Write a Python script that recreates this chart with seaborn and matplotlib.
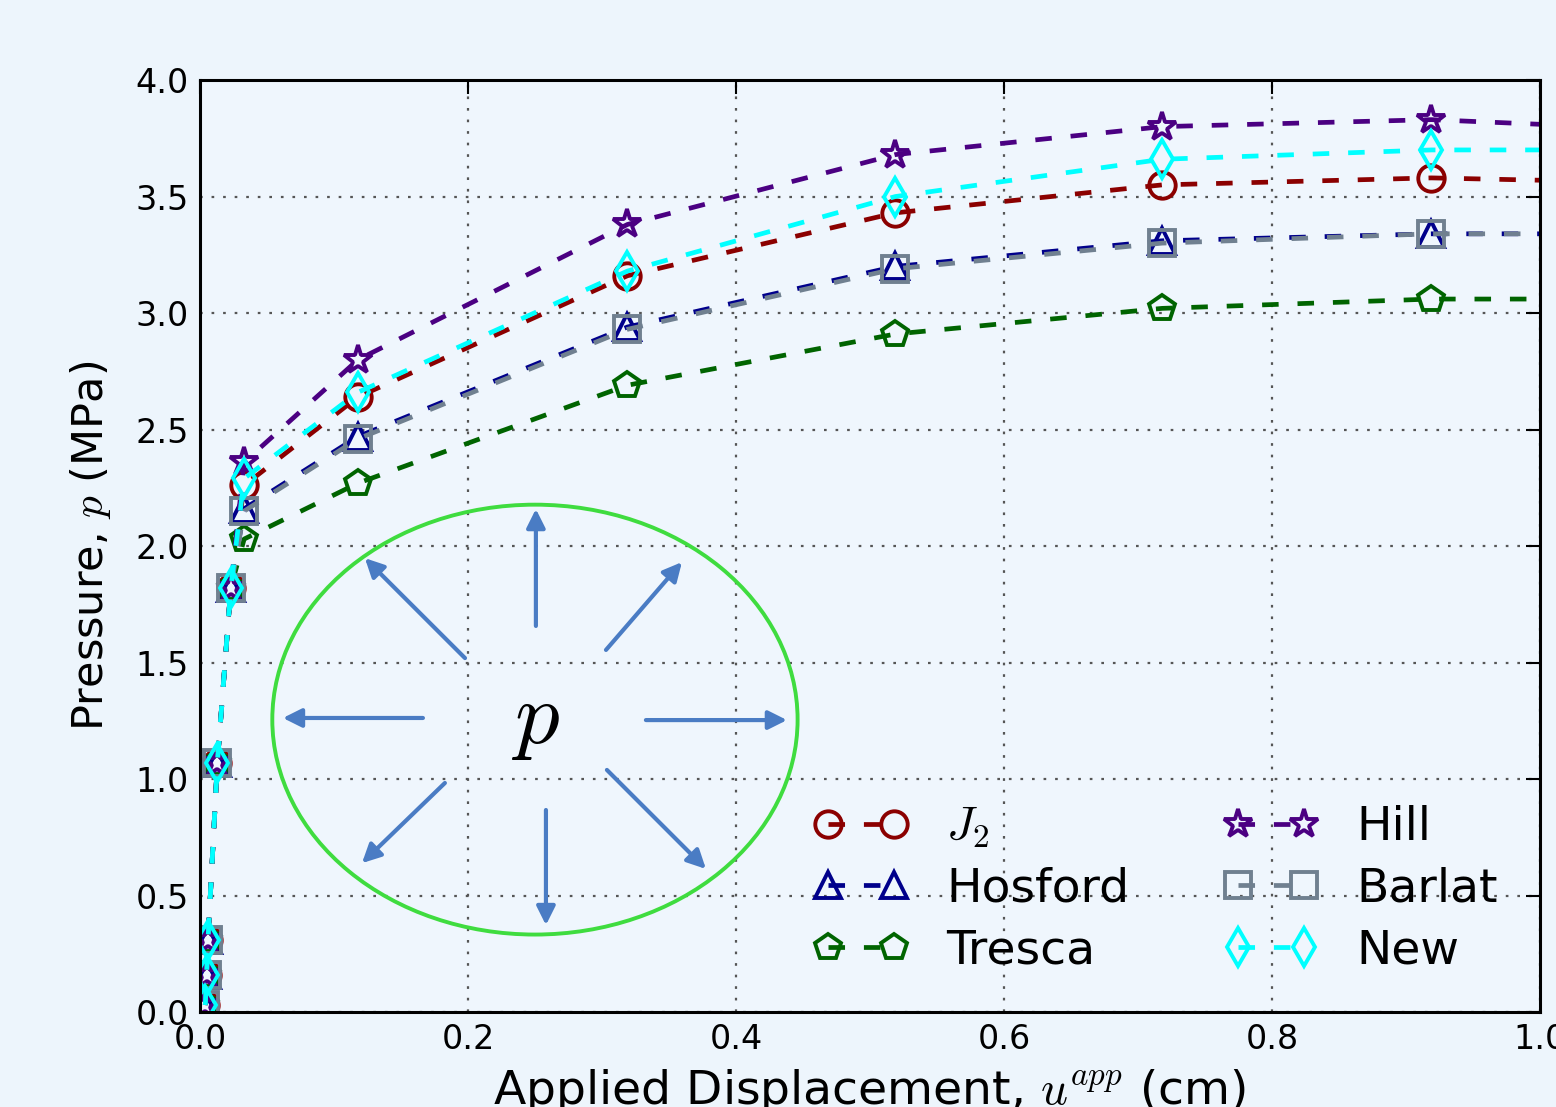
import numpy as np
import pandas as pd
import matplotlib
matplotlib.use("Agg")
import matplotlib.pyplot as plt
from matplotlib.patches import Ellipse
import seaborn as sns

# Data
u_app = [0.004, 0.005, 0.006, 0.013, 0.023, 0.033, 0.118, 0.319, 0.519, 0.718, 0.919, 1.0]
low = [0.03, 0.16, 0.31, 1.07, 1.82]

p_j2 = low + [2.26, 2.64, 3.16, 3.43, 3.55, 3.58, 3.57]
p_hosford = low + [2.16, 2.47, 2.94, 3.20, 3.31, 3.34, 3.34]
p_tresca = low + [2.03, 2.27, 2.69, 2.91, 3.02, 3.06, 3.06]
p_hill = low + [2.36, 2.80, 3.38, 3.68, 3.80, 3.83, 3.81]
p_barlat = low + [2.15, 2.46, 2.93, 3.19, 3.30, 3.34, 3.34]
p_new = low + [2.29, 2.66, 3.18, 3.50, 3.66, 3.70, 3.70]

labels = ["$J_2$", "Hosford", "Tresca", "Hill", "Barlat", "New"]
series = [p_j2, p_hosford, p_tresca, p_hill, p_barlat, p_new]
colors = ["#8b0000", "#00008b", "#006400", "#4b0082", "#708090", "#00ffff"]
markers = ["o", "^", "p", "*", "s", "d"]

# inset sketch (circle with pressure arrows), in data units
circle_center = (0.25, 1.255)
circle_size = (0.392, 1.845)
arrows_from = [(0.2507, 1.657), (0.2582, 0.867), (0.1664, 1.262), (0.3328, 1.253),
               (0.1978, 1.519), (0.3030, 1.554), (0.1828, 0.983), (0.3037, 1.039)]
arrows_to = [(0.2507, 2.159), (0.2582, 0.373), (0.0619, 1.262), (0.4381, 1.253),
             (0.1231, 1.948), (0.3597, 1.931), (0.1209, 0.639), (0.3776, 0.614)]

sns.set_style("white")
plt.rcParams["font.family"] = ["DejaVu Sans"]
plt.rcParams["mathtext.fontset"] = "cm"
for k in ["text.color", "axes.labelcolor", "xtick.color", "ytick.color"]:
    plt.rcParams[k] = "black"

fig = plt.figure(figsize=(15.56, 11.07), dpi=100, facecolor="#edf5fc")
ax = fig.add_axes([0.1285, 0.0858, 0.8612, 0.8419], facecolor="#eff6fd")

for lab, p, c, m in zip(labels, series, colors, markers):
    sns.lineplot(x=u_app, y=p, ax=ax, color=c, marker=m, markersize=21 if m == "*" else 19,
                 markerfacecolor="none", markeredgecolor=c, markeredgewidth=2.8,
                 linewidth=3.4, dashes=False, label=lab, sort=False,
                 markevery=list(range(len(u_app) - 1)))
    ax.lines[-1].set_dashes((3.5, 4))

ax.add_patch(Ellipse(circle_center, circle_size[0], circle_size[1], fill=False,
                     edgecolor="#3fdc3f", linewidth=2.8, zorder=1))
for a, b in zip(arrows_from, arrows_to):
    ax.annotate("", xy=b, xytext=a,
                arrowprops=dict(arrowstyle="-|>", color="#4a7cc4", lw=3,
                                mutation_scale=28, shrinkA=0, shrinkB=0))
ax.text(circle_center[0], 1.26, "$p$", fontsize=64, ha="center", va="center")

ax.set_xlim(0, 1.0)
ax.set_ylim(0, 4.0)
ax.set_xticks(np.arange(0, 1.01, 0.2))
ax.set_yticks(np.arange(0, 4.01, 0.5))
ax.grid(True, linestyle=(0, (1.2, 4)), color="#555555", linewidth=1.6)
ax.tick_params(direction="in", length=10, width=1.5, top=True, right=True,
               labelsize=24, pad=8)
for s in ax.spines.values():
    s.set_linewidth(2.2)
    s.set_color("black")

ax.set_xlabel("Applied Displacement, $u^{app}$ (cm)", fontsize=34, labelpad=8)
ax.set_ylabel("Pressure, $p$ (MPa)", fontsize=31, labelpad=16)

ax.legend(loc="lower right", ncol=2, numpoints=2, frameon=False, fontsize=34,
          handlelength=2.0, handletextpad=0.8, columnspacing=2.0, labelspacing=0.35,
          bbox_to_anchor=(1.0, -0.004))

fig.savefig("out.png", dpi=100, facecolor=fig.get_facecolor())
